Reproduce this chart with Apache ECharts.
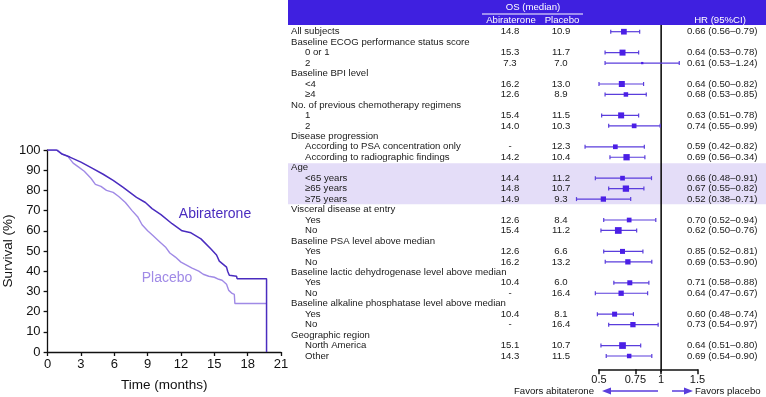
<!DOCTYPE html>
<html>
<head>
<meta charset="utf-8">
<script src="https://cdn.jsdelivr.net/npm/echarts@6/dist/echarts.min.js"></script>
<style>
  html, body { margin: 0; padding: 0; background: #fff; }
  #chart { width: 766px; height: 397px; }
</style>
</head>
<body>
<div id="chart"></div>
<script>
// Kaplan-Meier curves (time in months, survival %)
const abiTime = [0, 0.8, 1.3, 2.0, 3.0, 4.0, 5.0, 5.9, 6.8, 7.4, 8.0, 8.8, 9.4, 10.2, 11.2, 12.1, 12.9, 13.8, 14.7, 15.2, 15.45, 16.1, 16.2, 16.35, 17.0, 17.05, 19.7, 19.7];
const abiSurv = [100, 100, 98, 96.5, 94, 91, 88, 85, 81.5, 79, 76.5, 74, 71, 68, 63.5, 60, 59, 56, 51, 48, 45, 42, 40, 38, 37.5, 36.3, 36.3, 0];
const plaTime = [0, 0.9, 1.3, 1.8, 2.3, 2.8, 3.3, 3.9, 4.3, 4.8, 5.3, 5.9, 6.4, 7.0, 7.6, 8.1, 8.5, 9.0, 9.5, 10.0, 10.6, 11.0, 11.5, 12.0, 12.5, 13.0, 13.6, 14.0, 14.5, 15.0, 15.4, 15.7, 16.1, 16.3, 16.6, 16.8, 16.85, 19.7];
const plaSurv = [100, 100, 98, 97, 93.5, 91.5, 89.5, 86, 83, 82, 80, 79, 77, 74, 70, 67, 63, 60, 57.5, 55, 52, 49, 47, 44.5, 43, 41.5, 40, 38.5, 37.5, 37, 36, 35.5, 33.5, 30.5, 29, 28.5, 24, 24];

// forest plot rows
const rowLabels = ['All subjects', 'Baseline ECOG performance status score', '0 or 1', '2',
  'Baseline BPI level', '<4', '≥4', 'No. of previous chemotherapy regimens', '1', '2',
  'Disease progression', 'According to PSA concentration only', 'According to radiographic findings',
  'Age', '<65 years', '≥65 years', '≥75 years', 'Visceral disease at entry', 'Yes', 'No',
  'Baseline PSA level above median', 'Yes', 'No', 'Baseline lactic dehydrogenase level above median', 'Yes', 'No',
  'Baseline alkaline phosphatase level above median', 'Yes', 'No', 'Geographic region', 'North America', 'Other'];
const rowLevel = [0, 0, 1, 1, 0, 1, 1, 0, 1, 1, 0, 1, 1, 0, 1, 1, 1, 0, 1, 1, 0, 1, 1, 0, 1, 1, 0, 1, 1, 0, 1, 1];
const abiMedian = ['14.8', '', '15.3', '7.3', '', '16.2', '12.6', '', '15.4', '14.0', '', '-', '14.2', '', '14.4', '14.8', '14.9', '', '12.6', '15.4', '', '12.6', '16.2', '', '10.4', '-', '', '10.4', '-', '', '15.1', '14.3'];
const plaMedian = ['10.9', '', '11.7', '7.0', '', '13.0', '8.9', '', '11.5', '10.3', '', '12.3', '10.4', '', '11.2', '10.7', '9.3', '', '8.4', '11.2', '', '6.6', '13.2', '', '6.0', '16.4', '', '8.1', '16.4', '', '10.7', '11.5'];
const hrLabel = ['0.66 (0.56–0.79)', '', '0.64 (0.53–0.78)', '0.61 (0.53–1.24)', '', '0.64 (0.50–0.82)', '0.68 (0.53–0.85)', '',
  '0.63 (0.51–0.78)', '0.74 (0.55–0.99)', '', '0.59 (0.42–0.82)', '0.69 (0.56–0.34)', '', '0.66 (0.48–0.91)', '0.67 (0.55–0.82)',
  '0.52 (0.38–0.71)', '', '0.70 (0.52–0.94)', '0.62 (0.50–0.76)', '', '0.85 (0.52–0.81)', '0.69 (0.53–0.90)', '',
  '0.71 (0.58–0.88)', '0.64 (0.47–0.67)', '', '0.60 (0.48–0.74)', '0.73 (0.54–0.97)', '', '0.64 (0.51–0.80)', '0.69 (0.54–0.90)'];
// plotted markers as drawn
const hrPoint = [0.66, null, 0.65, 0.81, null, 0.645, 0.675, null, 0.64, 0.74, null, 0.60, 0.68, null, 0.65, 0.675, 0.525, null, 0.70, 0.62, null, 0.65, 0.69, null, 0.705, 0.64, null, 0.595, 0.73, null, 0.65, 0.70];
const ciLow = [0.57, null, 0.535, 0.535, null, 0.50, 0.535, null, 0.515, 0.557, null, 0.428, 0.565, null, 0.48, 0.557, 0.389, null, 0.527, 0.511, null, 0.527, 0.536, null, 0.59, 0.48, null, 0.491, 0.557, null, 0.511, 0.542];
const ciHigh = [0.787, null, 0.778, 1.224, null, 0.822, 0.847, null, 0.778, 0.989, null, 0.829, 0.834, null, 0.898, 0.825, 0.712, null, 0.942, 0.761, null, 0.816, 0.901, null, 0.872, 0.86, null, 0.734, 0.967, null, 0.796, 0.901];
const weight = [57, null, 60, 23, null, 60, 45, null, 60, 47, null, 47, 63, null, 47, 63, 53, null, 47, 67, null, 50, 53, null, 50, 53, null, 50, 53, null, 67, 45];
const hrTicks = [0.5, 0.75, 1, 1.5];
const hrRef = [1];
const ageRows = [13, 16];

const FONT = '"Liberation Sans", Arial, Helvetica, sans-serif';
const DARK = '#4a2cbf';
const LIGHT = '#a08ae6';
const HEAD = '#3f20e0';
const MARK = '#4b1fe6';
const CI = '#5a3ddc';

const chart = echarts.init(document.getElementById('chart'));

const forestData = [];
hrPoint.forEach((v, i) => {
  if (v != null) forestData.push([i, v, ciLow[i], ciHigh[i], weight[i]]);
});

const txt = (x, y, text, fill, size, align) => ({
  type: 'text', x: x, y: y,
  style: { text: text, fill: fill, font: size + 'px ' + FONT, textAlign: align, textVerticalAlign: 'middle', align: align, verticalAlign: 'middle' }
});

const option = {
  animation: false,
  textStyle: { fontFamily: FONT },
  grid: [
    { left: 43.3, top: 150, width: 237.7, height: 203.3 },
    { left: 599, top: 25, width: 98.5, height: 344.3 }
  ],
  xAxis: [
    {
      gridIndex: 0, type: 'value', min: 0, max: 21, interval: 3,
      name: 'Time (months)', nameLocation: 'middle', nameGap: 26,
      nameTextStyle: { fontSize: 13.5, color: '#111', fontFamily: FONT },
      axisLine: { lineStyle: { color: '#111', width: 1.3 } },
      axisTick: { length: 4, lineStyle: { color: '#111', width: 1.3 } },
      axisLabel: { fontSize: 13, color: '#111', margin: 6, fontFamily: FONT },
      splitLine: { show: false }
    },
    {
      gridIndex: 1, type: 'log', logBase: 10, min: 0.5, max: 1.5,
      axisLine: { onZero: false, lineStyle: { color: '#111', width: 1.5 } },
      axisTick: { customValues: hrTicks, length: 5, lineStyle: { color: '#111', width: 1.5 } },
      axisLabel: {
        customValues: hrTicks, fontSize: 11, color: '#111', margin: 5, fontFamily: FONT,
        formatter: v => String(+(+v).toFixed(2))
      },
      splitLine: { show: false }
    }
  ],
  yAxis: [
    {
      gridIndex: 0, type: 'value', min: 0, max: 100, interval: 10,
      name: 'Survival (%)', nameLocation: 'middle', nameGap: 30, nameRotate: 90,
      nameTextStyle: { fontSize: 13.5, color: '#111', fontFamily: FONT },
      axisLine: { show: true, lineStyle: { color: '#111', width: 1.3 } },
      axisTick: { show: true, length: 4, lineStyle: { color: '#111', width: 1.3 } },
      axisLabel: { fontSize: 13, color: '#111', margin: 7, fontFamily: FONT },
      splitLine: { show: false }
    },
    {
      gridIndex: 1, type: 'value', inverse: true, min: -0.64, max: 32.27, show: false
    }
  ],
  graphic: [
    { type: 'rect', shape: { x: 288, y: 0, width: 478, height: 25 }, style: { fill: HEAD }, z: 1 },
    Object.assign(txt(533, 7.5, 'OS (median)', '#fff', 9.6, 'center'), { z: 2 }),
    { type: 'line', shape: { x1: 482, y1: 14, x2: 583, y2: 14 }, style: { stroke: '#fff', lineWidth: 1 }, z: 2 },
    Object.assign(txt(511, 20.5, 'Abiraterone', '#fff', 9.6, 'center'), { z: 2 }),
    Object.assign(txt(562, 20.5, 'Placebo', '#fff', 9.6, 'center'), { z: 2 }),
    Object.assign(txt(720, 20.5, 'HR (95%CI)', '#fff', 9.6, 'center'), { z: 2 }),
    txt(594, 391, 'Favors abitaterone', '#111', 9.6, 'right'),
    txt(695, 391, 'Favors placebo', '#111', 9.6, 'left'),
    { type: 'line', shape: { x1: 658, y1: 391, x2: 609, y2: 391 }, style: { stroke: CI, lineWidth: 1.5 } },
    { type: 'polygon', shape: { points: [[602, 391], [611, 387.5], [611, 394.5]] }, style: { fill: CI } },
    { type: 'line', shape: { x1: 672, y1: 391, x2: 686, y2: 391 }, style: { stroke: CI, lineWidth: 1.5 } },
    { type: 'polygon', shape: { points: [[693, 391], [684, 387.5], [684, 394.5]] }, style: { fill: CI } },
    txt(215, 214, 'Abiraterone', DARK, 14, 'center'),
    txt(167, 278, 'Placebo', LIGHT, 14, 'center')
  ],
  series: [
    {
      type: 'line', xAxisIndex: 0, yAxisIndex: 0, name: 'Placebo',
      data: plaTime.map((t, i) => [t, plaSurv[i]]),
      showSymbol: false, lineStyle: { color: LIGHT, width: 1.4 }, z: 3
    },
    {
      type: 'line', xAxisIndex: 0, yAxisIndex: 0, name: 'Abiraterone',
      data: abiTime.map((t, i) => [t, abiSurv[i]]),
      showSymbol: false, lineStyle: { color: DARK, width: 1.5 }, z: 4
    },
    {
      // Age highlight band
      type: 'custom', xAxisIndex: 1, yAxisIndex: 1, z: 0, silent: true,
      data: [ageRows],
      renderItem: (params, api) => {
        const y1 = api.coord([1, api.value(0) - 0.42])[1];
        const y2 = api.coord([1, api.value(1) + 0.5])[1];
        return { type: 'rect', shape: { x: 288, y: y1, width: 478, height: y2 - y1 }, style: { fill: '#e4ddf8' } };
      }
    },
    {
      // row texts
      type: 'custom', xAxisIndex: 1, yAxisIndex: 1, z: 2, silent: true,
      data: rowLabels.map((_, i) => [i]),
      renderItem: (params, api) => {
        const i = api.value(0);
        const y = api.coord([1, i])[1];
        return {
          type: 'group',
          children: [
            txt(rowLevel[i] ? 305 : 291, y, rowLabels[i], '#1a1a1a', 9.6, 'left'),
            txt(510, y, abiMedian[i], '#1a1a1a', 9.6, 'center'),
            txt(561, y, plaMedian[i], '#1a1a1a', 9.6, 'center'),
            txt(687, y, hrLabel[i], '#1a1a1a', 9.6, 'left')
          ]
        };
      }
    },
    {
      // line of no effect
      type: 'custom', xAxisIndex: 1, yAxisIndex: 1, z: 4, silent: true,
      data: hrRef.map(v => [v]),
      renderItem: (params, api) => {
        const a = api.coord([api.value(0), -0.64]);
        const b = api.coord([api.value(0), 32.27]);
        return { type: 'line', shape: { x1: a[0], y1: a[1], x2: b[0], y2: b[1] + 3 }, style: { stroke: '#111', lineWidth: 1.6 } };
      }
    },
    {
      // HR markers with 95% CI
      type: 'custom', xAxisIndex: 1, yAxisIndex: 1, z: 5, silent: true,
      data: forestData,
      renderItem: (params, api) => {
        const i = api.value(0);
        const p = api.coord([api.value(1), i]);
        const lo = api.coord([api.value(2), i]);
        const hi = api.coord([api.value(3), i]);
        const s = api.value(4) / 10;
        return {
          type: 'group',
          children: [
            { type: 'line', shape: { x1: lo[0], y1: p[1], x2: hi[0], y2: p[1] }, style: { stroke: CI, lineWidth: 1.2 } },
            { type: 'line', shape: { x1: lo[0], y1: p[1] - 2, x2: lo[0], y2: p[1] + 2 }, style: { stroke: CI, lineWidth: 1.2 } },
            { type: 'line', shape: { x1: hi[0], y1: p[1] - 2, x2: hi[0], y2: p[1] + 2 }, style: { stroke: CI, lineWidth: 1.2 } },
            { type: 'rect', shape: { x: p[0] - s / 2, y: p[1] - s / 2, width: s, height: s }, style: { fill: MARK } }
          ]
        };
      }
    }
  ]
};
chart.setOption(option);
</script>
</body>
</html>
